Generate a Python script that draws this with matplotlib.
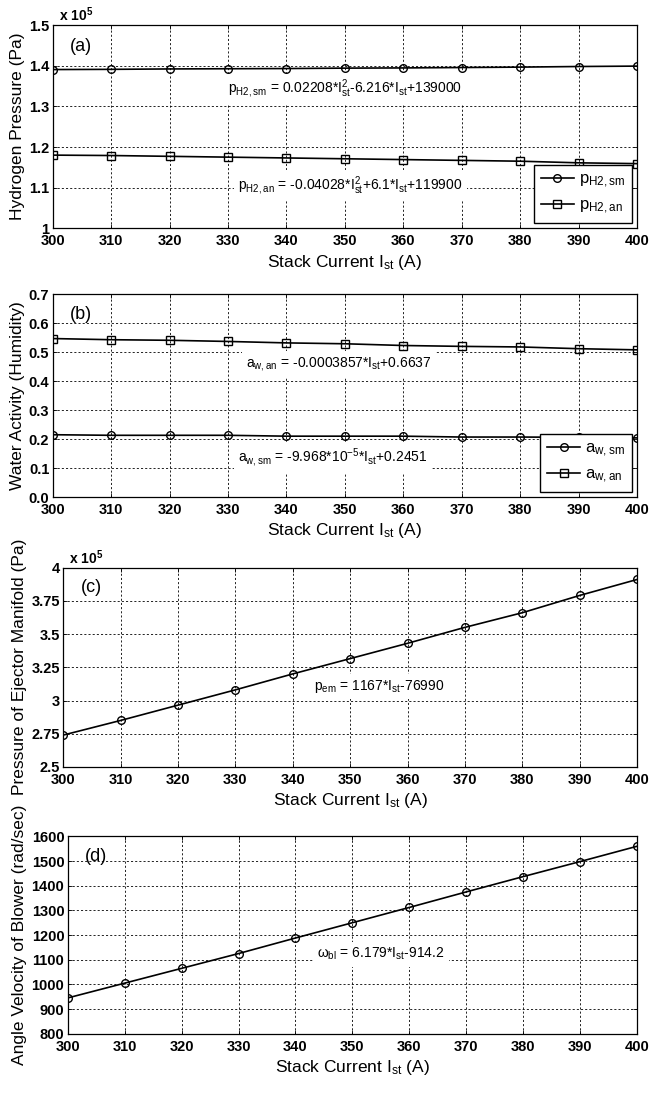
import matplotlib
matplotlib.use('Agg')
import matplotlib.pyplot as plt
from matplotlib.ticker import FuncFormatter

plt.rcParams['font.family'] = ['Liberation Sans', 'DejaVu Sans']
plt.rcParams['mathtext.default'] = 'regular'

NARROW = ['Liberation Sans Narrow', 'Liberation Sans', 'DejaVu Sans']

current = [300, 310, 320, 330, 340, 350, 360, 370, 380, 390, 400]

# (a) hydrogen pressure, Pa
p_h2_sm = [139100, 139150, 139250, 139300, 139350, 139450, 139500, 139600, 139700, 139850, 139950]
p_h2_an = [118000, 117900, 117700, 117500, 117300, 117100, 116900, 116700, 116500, 116100, 115900]

# (b) water activity
aw_sm = [0.215, 0.213, 0.213, 0.213, 0.210, 0.210, 0.210, 0.207, 0.207, 0.206, 0.204]
aw_an = [0.547, 0.543, 0.541, 0.537, 0.532, 0.529, 0.523, 0.520, 0.518, 0.512, 0.508]

# (c) ejector manifold pressure, Pa
p_em = [274000, 285000, 296500, 308000, 320000, 331500, 343000, 355000, 366000, 379000, 391000]

# (d) blower angular velocity, rad/s
w_bl = [945, 1005, 1065, 1125, 1188, 1250, 1312, 1375, 1437, 1498, 1560]

fig = plt.figure(figsize=(6.52, 11.02), dpi=100)

sci = FuncFormatter(lambda v, pos: '%g' % (v / 1e5))


def setup(ax, ylim, yticks, ylabel, tag, yfmt=None):
    ax.set_xlim(300, 400)
    ax.set_xticks(current)
    ax.set_ylim(*ylim)
    ax.set_yticks(yticks)
    if yfmt is not None:
        ax.yaxis.set_major_formatter(yfmt)
    ax.grid(True, color='k', linestyle=(0, (2.5, 2.5)), linewidth=0.6)
    ax.set_axisbelow(True)
    ax.tick_params(direction='in', length=3, width=0.6, top=True, right=True,
                   labelsize=10.5)
    ax.tick_params(axis='x', pad=4.5)
    ax.tick_params(axis='y', pad=2.5)
    plt.setp(ax.get_xticklabels() + ax.get_yticklabels(),
             family=NARROW, fontweight='bold')
    ax.set_xlabel(r'Stack Current I$_{st}$ (A)', fontsize=12.5, labelpad=3)
    ax.set_ylabel(ylabel, fontsize=12.5, labelpad=3)
    ax.text(0.03, 0.94, tag, transform=ax.transAxes, fontsize=13, va='top')
    for s in ax.spines.values():
        s.set_linewidth(0.9)


def eq(ax, x, y, s):
    ax.text(x, y, s, ha='center', va='center', fontsize=10, family=NARROW,
            bbox=dict(facecolor='white', edgecolor='none', pad=3), zorder=1.5)


def x10(ax):
    ax.text(0.01, 1.005, r'x 10$^5$', transform=ax.transAxes, ha='left',
            va='bottom', fontsize=10, family=NARROW, fontweight='bold')


leg_kw = dict(loc='lower right', fancybox=False, edgecolor='k', framealpha=1,
              borderaxespad=0.3, fontsize=12, handlelength=2.0, borderpad=0.4,
              labelspacing=0.5, handletextpad=0.3)

line_kw = dict(color='k', linewidth=1.2, markerfacecolor='none', markeredgewidth=1.0)

# (a)
ax1 = fig.add_axes([0.081, 0.793, 0.896, 0.184])
ax1.plot(current, p_h2_sm, marker='o', markersize=5.5, label=r'p$_{H2,sm}$', **line_kw)
ax1.plot(current, p_h2_an, marker='s', markersize=6, label=r'p$_{H2,an}$', **line_kw)
setup(ax1, (100000, 150000), [100000, 110000, 120000, 130000, 140000, 150000],
      'Hydrogen Pressure (Pa)', '(a)', sci)
x10(ax1)
eq(ax1, 350, 134500, r'p$_{H2,sm}$ = 0.02208*I$_{st}^2$-6.216*I$_{st}$+139000')
eq(ax1, 351, 110500, r'p$_{H2,an}$ = -0.04028*I$_{st}^2$+6.1*I$_{st}$+119900')
ax1.legend(**leg_kw)

# (b)
ax2 = fig.add_axes([0.081, 0.549, 0.896, 0.184])
ax2.plot(current, aw_sm, marker='o', markersize=5.5, label=r'a$_{w,sm}$', **line_kw)
ax2.plot(current, aw_an, marker='s', markersize=6, label=r'a$_{w,an}$', **line_kw)
setup(ax2, (0, 0.7), [0, 0.1, 0.2, 0.3, 0.4, 0.5, 0.6, 0.7],
      'Water Activity (Humidity)', '(b)')
eq(ax2, 349, 0.46, r'a$_{w,an}$ = -0.0003857*I$_{st}$+0.6637')
eq(ax2, 348, 0.135, r'a$_{w,sm}$ = -9.968*10$^{-5}$*I$_{st}$+0.2451')
ax2.legend(**leg_kw)

# (c)
ax3 = fig.add_axes([0.097, 0.304, 0.880, 0.181])
ax3.plot(current, p_em, marker='o', markersize=5.5, **line_kw)
setup(ax3, (250000, 400000), [250000, 275000, 300000, 325000, 350000, 375000, 400000],
      'Pressure of Ejector Manifold (Pa)', '(c)', sci)
x10(ax3)
eq(ax3, 355, 310500, r'p$_{em}$ = 1167*I$_{st}$-76990')

# (d)
ax4 = fig.add_axes([0.104, 0.062, 0.873, 0.179])
ax4.plot(current, w_bl, marker='o', markersize=5.5, **line_kw)
setup(ax4, (800, 1600), [800, 900, 1000, 1100, 1200, 1300, 1400, 1500, 1600],
      'Angle Velocity of Blower (rad/sec)', '(d)')
eq(ax4, 355, 1122, r'$\omega_{bl}$ = 6.179*I$_{st}$-914.2')

fig.savefig('out.png', dpi=100)
